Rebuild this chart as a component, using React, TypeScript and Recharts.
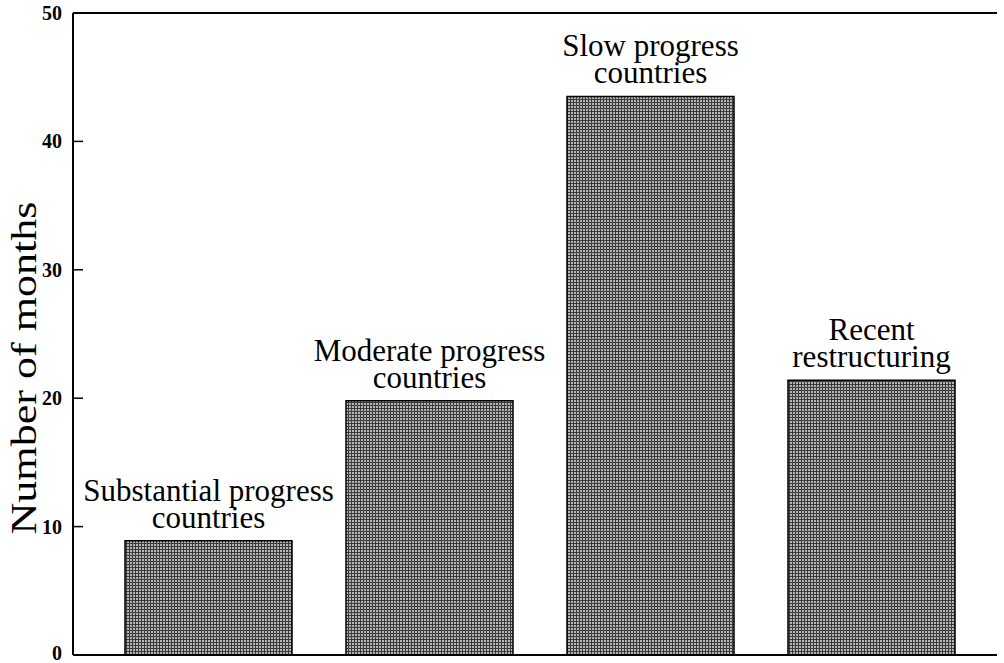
import { BarChart, Bar, XAxis, YAxis, ReferenceLine, LabelList } from 'recharts';

const categories = ['Substantial', 'Moderate', 'Slow', 'Recent'];
const months = [8.9, 19.8, 43.5, 21.4];
const labelTop = ['Substantial progress', 'Moderate progress', 'Slow progress', 'Recent'];
const labelBottom = ['countries', 'countries', 'countries', 'restructuring'];
const yTicks = [0, 10, 20, 30, 40, 50];

const data = categories.map((name, i) => ({
  name,
  value: months[i],
}));

const FONT = '"Liberation Serif", "Times New Roman", serif';

// y ticks drawn inward from the axis, label on the left
function YTick(props: any) {
  const { x, y, payload } = props;
  const v = payload.value;
  return (
    <g>
      {v !== 0 && v !== 50 && (
        <line x1={x} x2={x + 10} y1={y} y2={y} stroke="#000" strokeWidth={1.5} />
      )}
      <text
        x={x - 11}
        y={v === 0 ? y + 5 : y + 7}
        textAnchor="end"
        fontFamily={FONT}
        fontWeight="bold"
        fontSize={20}
        fill="#000"
      >
        {v}
      </text>
    </g>
  );
}

// two-line label above each bar, kept as one text element
function BarLabel(props: any) {
  const { x, y, width, index } = props;
  const cx = x + width / 2;
  return (
    <text fontFamily={FONT} fontSize={31} fill="#000" textAnchor="middle" x={cx} y={y - 40}>
      <tspan x={cx}>{labelTop[index]}</tspan>
      <tspan x={cx} dy={27}>{labelBottom[index]}</tspan>
    </text>
  );
}

export default function App() {
  return (
    <div style={{ position: 'absolute', left: 0, top: 0, background: '#fff' }}>
      <BarChart
        width={1004}
        height={663}
        data={data}
        margin={{ top: 13, right: 7, bottom: 0, left: 0 }}
      >
        <defs>
          <pattern id="halftone" width="3" height="3" patternUnits="userSpaceOnUse">
            <rect width="3" height="3" fill="#b4b4b4" />
            <rect width="3" height="1" fill="#3c3c3c" />
            <rect width="1" height="3" fill="#3c3c3c" />
          </pattern>
        </defs>
        <XAxis
          dataKey="name"
          tick={false}
          tickLine={false}
          height={8}
          padding={{ left: 25, right: 15 }}
          axisLine={{ stroke: '#000', strokeWidth: 2 }}
        />
        <YAxis
          width={73}
          domain={[0, 50]}
          ticks={yTicks}
          interval={0}
          tickSize={0}
          tickMargin={0}
          tickLine={false}
          tick={<YTick />}
          axisLine={{ stroke: '#000', strokeWidth: 2 }}
        />
        <ReferenceLine y={50} stroke="#000" strokeWidth={2} />
        <Bar
          dataKey="value"
          barSize={167}
          fill="url(#halftone)"
          stroke="#000"
          strokeWidth={1.5}
          isAnimationActive={false}
        >
          <LabelList dataKey="value" content={<BarLabel />} />
        </Bar>
        <text
          x={0}
          y={0}
          transform="translate(36 368) rotate(-90)"
          textAnchor="middle"
          fontFamily={FONT}
          fontSize={36}
          textLength={333}
          lengthAdjust="spacingAndGlyphs"
          fill="#000"
        >
          Number of months
        </text>
      </BarChart>
    </div>
  );
}
